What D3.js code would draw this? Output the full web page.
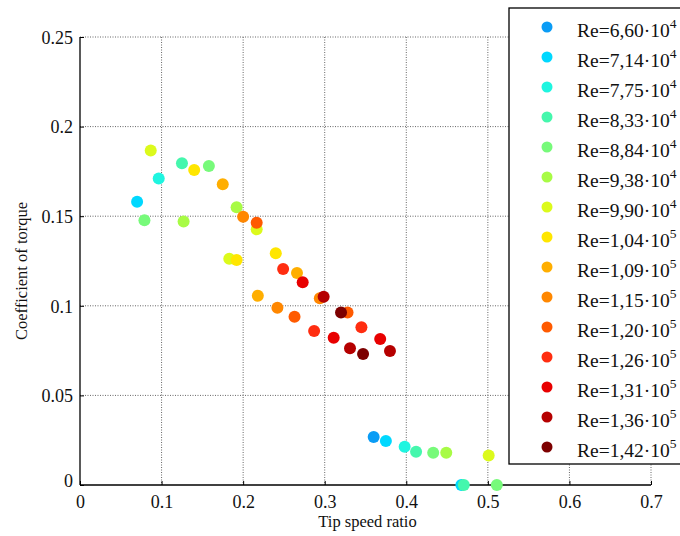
<!DOCTYPE html>
<html>
<head>
<meta charset="utf-8">
<script src="https://cdn.jsdelivr.net/npm/d3@7"></script>
<style>
  body { margin: 0; background: #fff; }
  svg { display: block; font-family: "Liberation Serif", "Times New Roman", serif; }
  .grid line { stroke: #666; stroke-dasharray: 1,1.5; stroke-width: 1; }
  .tick text { font-family: "Liberation Serif", "Times New Roman", serif; font-size: 18px; }
</style>
</head>
<body>
<svg width="680" height="536"></svg>
<script>
// Reynolds numbers (mantissa, exponent) for the legend
const reMantissa = ['6,60', '7,14', '7,75', '8,33', '8,84', '9,38', '9,90',
  '1,04', '1,09', '1,15', '1,20', '1,26', '1,31', '1,36', '1,42'];
const reExponent = [4, 4, 4, 4, 4, 4, 4, 5, 5, 5, 5, 5, 5, 5, 5];

// tip speed ratio per series
const tsrValues = [
  [0.360],
  [0.070, 0.375, 0.4675],
  [0.0965, 0.398],
  [0.125, 0.412, 0.4705],
  [0.079, 0.158, 0.433, 0.511],
  [0.127, 0.192, 0.449],
  [0.0867, 0.2166, 0.183, 0.501],
  [0.140, 0.192, 0.240],
  [0.175, 0.218, 0.266],
  [0.200, 0.242, 0.294],
  [0.2166, 0.263, 0.328],
  [0.249, 0.287, 0.345],
  [0.273, 0.311, 0.368],
  [0.2987, 0.331, 0.380],
  [0.320, 0.347]
];

// coefficient of torque per series
const ctValues = [
  [0.0268],
  [0.158, 0.0246, 0],
  [0.1711, 0.0214],
  [0.1795, 0.0186, 0],
  [0.1477, 0.178, 0.018, 0],
  [0.147, 0.155, 0.018],
  [0.1866, 0.1427, 0.1263, 0.0164],
  [0.1758, 0.1256, 0.1293],
  [0.1678, 0.1056, 0.1183],
  [0.1497, 0.0989, 0.1042],
  [0.1464, 0.0939, 0.0962],
  [0.1205, 0.0859, 0.088],
  [0.1131, 0.0822, 0.0815],
  [0.1051, 0.0763, 0.0748],
  [0.0962, 0.0731]
];

const xTicks = [0, 0.1, 0.2, 0.3, 0.4, 0.5, 0.6, 0.7];
const yTicks = [0, 0.05, 0.1, 0.15, 0.2, 0.25];

const colors = ['#0a9cf5', '#00d8ff', '#1ff5e0', '#45f7ad', '#77fa7a', '#a8fb45',
  '#dcfa1c', '#ffe600', '#ffae00', '#ff8700', '#ff5a00', '#ff2d10', '#e80000',
  '#b50000', '#7d0000'];

const margin = { top: 37, left: 80 };
const width = 571;
const height = 448;

const svg = d3.select('svg');
const g = svg.append('g')
  .attr('transform', `translate(${margin.left},${margin.top})`);

const x = d3.scaleLinear().domain([0, 0.7]).range([0, width]);
const y = d3.scaleLinear().domain([0, 0.25]).range([height, 0]);

// grid
g.append('g').attr('class', 'grid')
  .selectAll('line').data(xTicks.slice(1)).enter().append('line')
  .attr('x1', d => x(d)).attr('x2', d => x(d))
  .attr('y1', 0).attr('y2', height);
g.append('g').attr('class', 'grid')
  .selectAll('line').data(yTicks.slice(1)).enter().append('line')
  .attr('x1', 0).attr('x2', width)
  .attr('y1', d => y(d)).attr('y2', d => y(d));

// axes
const xAxis = d3.axisBottom(x).tickValues(xTicks).tickSize(-4).tickPadding(9)
  .tickFormat(d => d === 0 ? '0' : d3.format('.1f')(d));
const yAxis = d3.axisLeft(y).tickValues(yTicks).tickSize(-4).tickPadding(7)
  .tickFormat(d => d === 0 ? '0' : String(+d.toFixed(2)));

const gx = g.append('g').attr('transform', `translate(0,${height})`).call(xAxis);
const gy = g.append('g').call(yAxis);
[gx, gy].forEach(a => {
  a.select('.domain').attr('stroke', '#000').attr('stroke-width', 1.3)
    .attr('d', a === gx ? `M0,0H${width}` : `M0,0V${height}`);
  a.selectAll('.tick line').attr('stroke', '#000');
  a.selectAll('.tick text').attr('fill', '#111');
});
gx.selectAll('.tick text').attr('dy', '0.8em');
gy.selectAll('.tick text').attr('dy', '0.35em');
gy.selectAll('.tick').filter(d => d === 0).select('text').attr('dy', '0.1em');

// axis titles
svg.append('text')
  .attr('x', margin.left + width / 2 + 2).attr('y', 527)
  .attr('text-anchor', 'middle').style('font-size', '16.5px').attr('fill', '#111')
  .text('Tip speed ratio');
svg.append('text')
  .attr('transform', `translate(27,${margin.top + height / 2 + 10}) rotate(-90)`)
  .attr('text-anchor', 'middle').style('font-size', '16.5px').attr('fill', '#111')
  .text('Coefficient of torque');

// points
const series = reMantissa.map((m, i) => ({
  color: colors[i],
  points: tsrValues[i].map((t, j) => ({ tsr: t, ct: ctValues[i][j] }))
}));

series.forEach(s => {
  g.append('g').selectAll('circle')
    .data(s.points).enter().append('circle')
    .attr('cx', d => x(d.tsr))
    .attr('cy', d => y(d.ct))
    .attr('r', 6)
    .style('fill', s.color);
});

// legend
const legend = svg.append('g').attr('transform', 'translate(509,8)');
legend.append('rect')
  .attr('x', 0).attr('y', 0).attr('width', 200).attr('height', 456)
  .attr('fill', '#fff').attr('stroke', '#000').attr('stroke-width', 1.3);

const rows = legend.selectAll('.row')
  .data(reMantissa).enter().append('g')
  .attr('transform', (d, i) => `translate(0,${19 + i * 30})`);
rows.append('circle')
  .attr('cx', 38).attr('cy', 0).attr('r', 5.5)
  .style('fill', (d, i) => colors[i]);
const label = rows.append('text')
  .attr('x', 68).attr('y', 10)
  .style('font-size', '19.5px').attr('fill', '#111');
label.append('tspan').text(d => `Re=${d}\u00b710`);
label.append('tspan')
  .attr('dy', -9).style('font-size', '13.5px')
  .text((d, i) => reExponent[i]);
</script>
</body>
</html>
